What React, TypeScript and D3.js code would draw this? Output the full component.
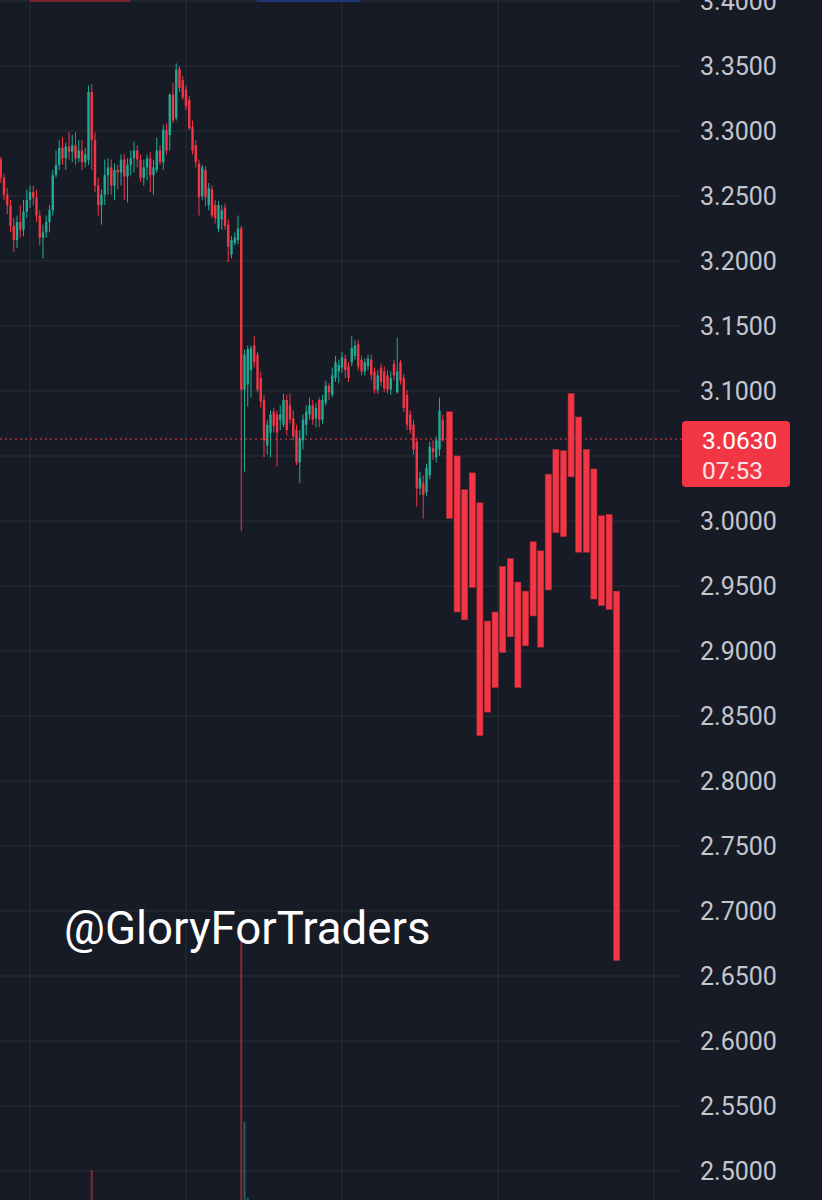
import * as d3 from "d3";
import { useEffect, useRef } from "react";

const W = 822;
const H = 1200;

// 5m candles, [open, high, low, close]
const candles: [number, number, number, number][] = [
  [3.278, 3.280, 3.260, 3.264], [3.264, 3.267, 3.247, 3.251], [3.251, 3.256, 3.236, 3.243],
  [3.243, 3.247, 3.222, 3.227], [3.227, 3.233, 3.207, 3.216], [3.216, 3.235, 3.210, 3.230],
  [3.230, 3.243, 3.218, 3.224], [3.224, 3.247, 3.219, 3.238], [3.238, 3.255, 3.233, 3.247],
  [3.247, 3.258, 3.241, 3.253], [3.253, 3.258, 3.243, 3.249], [3.249, 3.255, 3.230, 3.235],
  [3.235, 3.239, 3.212, 3.218], [3.218, 3.228, 3.202, 3.222], [3.222, 3.235, 3.218, 3.230],
  [3.230, 3.243, 3.222, 3.239], [3.239, 3.270, 3.235, 3.266], [3.266, 3.285, 3.264, 3.274],
  [3.274, 3.293, 3.270, 3.287], [3.287, 3.295, 3.274, 3.279], [3.279, 3.291, 3.270, 3.288],
  [3.288, 3.299, 3.278, 3.284], [3.284, 3.297, 3.276, 3.289], [3.289, 3.299, 3.274, 3.279],
  [3.279, 3.293, 3.276, 3.285], [3.285, 3.293, 3.270, 3.276], [3.276, 3.287, 3.272, 3.282],
  [3.278, 3.335, 3.274, 3.330], [3.330, 3.336, 3.270, 3.293], [3.293, 3.299, 3.253, 3.258],
  [3.258, 3.264, 3.235, 3.243], [3.243, 3.255, 3.228, 3.251], [3.251, 3.278, 3.243, 3.266],
  [3.266, 3.279, 3.251, 3.272], [3.272, 3.278, 3.251, 3.258], [3.258, 3.275, 3.247, 3.270],
  [3.270, 3.274, 3.255, 3.268], [3.268, 3.282, 3.258, 3.278], [3.278, 3.282, 3.247, 3.265],
  [3.265, 3.279, 3.245, 3.274], [3.274, 3.285, 3.266, 3.279], [3.279, 3.292, 3.268, 3.285],
  [3.285, 3.289, 3.272, 3.278], [3.278, 3.282, 3.261, 3.264], [3.264, 3.278, 3.258, 3.272],
  [3.272, 3.282, 3.262, 3.279], [3.279, 3.284, 3.253, 3.266], [3.266, 3.278, 3.251, 3.272],
  [3.270, 3.295, 3.268, 3.285], [3.285, 3.289, 3.274, 3.276], [3.276, 3.305, 3.270, 3.301],
  [3.301, 3.306, 3.282, 3.285], [3.297, 3.329, 3.285, 3.328], [3.328, 3.337, 3.306, 3.308],
  [3.310, 3.352, 3.308, 3.347], [3.348, 3.350, 3.330, 3.333], [3.339, 3.342, 3.324, 3.326],
  [3.332, 3.335, 3.316, 3.319], [3.324, 3.327, 3.301, 3.302], [3.303, 3.308, 3.282, 3.285],
  [3.289, 3.293, 3.272, 3.276], [3.275, 3.278, 3.235, 3.249], [3.250, 3.274, 3.247, 3.272],
  [3.270, 3.273, 3.242, 3.249], [3.243, 3.260, 3.239, 3.256], [3.255, 3.258, 3.233, 3.235],
  [3.243, 3.247, 3.229, 3.233], [3.225, 3.246, 3.222, 3.243], [3.232, 3.243, 3.224, 3.239],
  [3.241, 3.244, 3.224, 3.227], [3.228, 3.232, 3.199, 3.211], [3.205, 3.219, 3.202, 3.216],
  [3.214, 3.222, 3.212, 3.218], [3.216, 3.235, 3.213, 3.225], [3.225, 3.227, 2.992, 3.101],
  [3.101, 3.132, 3.038, 3.128], [3.105, 3.135, 3.088, 3.132], [3.116, 3.135, 3.095, 3.133],
  [3.135, 3.142, 3.118, 3.122], [3.128, 3.130, 3.099, 3.101], [3.110, 3.115, 3.087, 3.092],
  [3.093, 3.097, 3.049, 3.062], [3.058, 3.078, 3.051, 3.074], [3.068, 3.085, 3.049, 3.082],
  [3.084, 3.087, 3.068, 3.073], [3.082, 3.085, 3.042, 3.068], [3.078, 3.089, 3.070, 3.082],
  [3.074, 3.098, 3.072, 3.093], [3.093, 3.097, 3.066, 3.070], [3.089, 3.098, 3.075, 3.078],
  [3.079, 3.085, 3.062, 3.065], [3.070, 3.074, 3.043, 3.045], [3.045, 3.070, 3.029, 3.064],
  [3.062, 3.082, 3.055, 3.078], [3.074, 3.089, 3.066, 3.084], [3.082, 3.095, 3.078, 3.089],
  [3.089, 3.093, 3.074, 3.078], [3.079, 3.091, 3.072, 3.087], [3.093, 3.095, 3.072, 3.078],
  [3.078, 3.097, 3.075, 3.093], [3.091, 3.108, 3.089, 3.104], [3.104, 3.106, 3.093, 3.099],
  [3.097, 3.118, 3.095, 3.112], [3.110, 3.127, 3.107, 3.122], [3.115, 3.124, 3.106, 3.120],
  [3.118, 3.130, 3.114, 3.126], [3.125, 3.128, 3.110, 3.116], [3.119, 3.122, 3.107, 3.110],
  [3.122, 3.142, 3.119, 3.133], [3.127, 3.139, 3.124, 3.135], [3.136, 3.139, 3.116, 3.119],
  [3.124, 3.127, 3.112, 3.115], [3.115, 3.125, 3.112, 3.122], [3.119, 3.128, 3.116, 3.125],
  [3.124, 3.128, 3.108, 3.112], [3.115, 3.118, 3.098, 3.101], [3.101, 3.116, 3.098, 3.112],
  [3.118, 3.121, 3.104, 3.107], [3.115, 3.119, 3.099, 3.102], [3.112, 3.116, 3.098, 3.101],
  [3.101, 3.115, 3.097, 3.110], [3.121, 3.124, 3.108, 3.112], [3.099, 3.141, 3.098, 3.115],
  [3.122, 3.124, 3.105, 3.108], [3.110, 3.113, 3.084, 3.087], [3.097, 3.101, 3.070, 3.074],
  [3.082, 3.085, 3.067, 3.070], [3.074, 3.078, 3.051, 3.055], [3.061, 3.064, 3.011, 3.025],
  [3.025, 3.038, 3.020, 3.033], [3.029, 3.035, 3.002, 3.020], [3.022, 3.044, 3.019, 3.041],
  [3.035, 3.061, 3.032, 3.057], [3.056, 3.062, 3.047, 3.053], [3.049, 3.065, 3.045, 3.062],
  [3.055, 3.095, 3.050, 3.085], [3.078, 3.082, 3.061, 3.062],
];

// the wide red block on the right, top and bottom price of each bar
const wideTop = [
  3.084, 3.050, 3.024, 3.037, 3.014, 2.923, 2.930, 2.965, 2.971, 2.953, 2.946, 2.984,
  2.977, 3.036, 3.055, 3.054, 3.098, 3.080, 3.055, 3.040, 3.004, 3.005, 2.946,
];
const wideBottom = [
  3.002, 2.930, 2.924, 2.949, 2.835, 2.853, 2.872, 2.899, 2.911, 2.872, 2.904, 2.927,
  2.903, 2.947, 2.991, 2.988, 3.034, 2.976, 2.976, 2.940, 2.935, 2.932, 2.662,
];

const priceTicks = [
  3.4, 3.35, 3.3, 3.25, 3.2, 3.15, 3.1, 3.05, 3.0, 2.95, 2.9, 2.85, 2.8, 2.75, 2.7,
  2.65, 2.6, 2.55, 2.5,
];
const timeGrid = [9, 57, 105, 153, 201];

// volume overlay, only the bars tall enough to show
const volIdx = [28, 74, 75, 76];
const volValues = [14.5, 100, 32, 4.5];

const lastPrice = 3.063;
const countdown = "07:53";
const watermark = "@GloryForTraders";

const UP = "#22ab94";
const DOWN = "#f23645";
const BG = "#171b26";
const GRID = "#2a2e39";

export default function App() {
  const ref = useRef<SVGSVGElement>(null);

  useEffect(() => {
    if (!ref.current) return;
    const svg = d3.select(ref.current);
    svg.selectAll("*").remove();

    const plotRight = 680;

    const x = d3.scaleLinear().domain([0, 201]).range([0.75, 654]);
    const y = d3.scaleLinear().domain([2.5, 3.4]).range([1171, 1]);
    const xw = d3
      .scaleBand<number>()
      .domain(d3.range(wideTop.length))
      .range([445.7, 620.5])
      .paddingInner(0.2)
      .paddingOuter(0.1);
    const yv = d3.scaleLinear().domain([0, 100]).range([1210, 935]);

    svg.append("rect").attr("width", W).attr("height", H).attr("fill", BG);

    // grid
    svg
      .append("g")
      .selectAll("line")
      .data(timeGrid)
      .join("line")
      .attr("x1", (d) => x(d))
      .attr("x2", (d) => x(d))
      .attr("y1", 0)
      .attr("y2", H)
      .attr("stroke", GRID)
      .attr("stroke-width", 1);

    svg
      .append("g")
      .selectAll("line")
      .data(priceTicks)
      .join("line")
      .attr("x1", 0)
      .attr("x2", plotRight)
      .attr("y1", (d) => y(d))
      .attr("y2", (d) => y(d))
      .attr("stroke", GRID)
      .attr("stroke-width", 1);

    // bits of toolbar cut off at the top edge
    svg.append("rect").attr("x", 30).attr("y", 0).attr("width", 100).attr("height", 2).attr("fill", "#7c2530");
    svg.append("rect").attr("x", 257).attr("y", 0).attr("width", 103).attr("height", 2).attr("fill", "#1f3578");

    // volume
    svg
      .append("g")
      .selectAll("rect")
      .data(volIdx)
      .join("rect")
      .attr("x", (d) => x(d) - 1)
      .attr("width", 2)
      .attr("y", (d, i) => yv(volValues[i]))
      .attr("height", (d, i) => yv(0) - yv(volValues[i]))
      .attr("fill", (d) => (candles[d][3] >= candles[d][0] ? UP : DOWN))
      .attr("opacity", 0.5);

    // candles
    const cg = svg.append("g");
    candles.forEach(([o, h, l, c], i) => {
      const col = c >= o ? UP : DOWN;
      cg.append("line")
        .attr("x1", x(i))
        .attr("x2", x(i))
        .attr("y1", y(h))
        .attr("y2", y(l))
        .attr("stroke", col)
        .attr("stroke-width", 1);
      const top = y(Math.max(o, c));
      cg.append("rect")
        .attr("x", x(i) - 1.2)
        .attr("width", 2.4)
        .attr("y", top)
        .attr("height", Math.max(1, y(Math.min(o, c)) - top))
        .attr("fill", col);
    });

    // wide bars
    svg
      .append("g")
      .selectAll("rect")
      .data(wideTop)
      .join("rect")
      .attr("x", (d, i) => xw(i)!)
      .attr("width", xw.bandwidth())
      .attr("y", (d) => y(d))
      .attr("height", (d, i) => y(wideBottom[i]) - y(d))
      .attr("fill", DOWN)
      .attr("stroke", "#b92a38")
      .attr("stroke-width", 0.6);

    // last price line
    svg
      .append("line")
      .attr("x1", 0)
      .attr("x2", 682)
      .attr("y1", y(lastPrice))
      .attr("y2", y(lastPrice))
      .attr("stroke", DOWN)
      .attr("stroke-width", 1)
      .attr("stroke-dasharray", "2,3");

    // axis labels
    svg
      .append("g")
      .selectAll("text")
      .data(priceTicks)
      .join("text")
      .attr("x", 700)
      .attr("y", (d) => y(d))
      .attr("dy", "0.36em")
      .attr("font-family", "Roboto, sans-serif")
      .attr("font-size", 25)
      .attr("fill", "#c3c6ce")
      .text((d) => d3.format(".4f")(d));

    // price tag
    const py = y(lastPrice);
    svg
      .append("rect")
      .attr("x", 682)
      .attr("y", py - 18)
      .attr("width", 108)
      .attr("height", 66)
      .attr("rx", 4)
      .attr("fill", DOWN);
    svg
      .append("text")
      .attr("x", 702)
      .attr("y", py + 1)
      .attr("dy", "0.36em")
      .attr("font-family", "Roboto, sans-serif")
      .attr("font-size", 24.5)
      .attr("fill", "#ffffff")
      .text(d3.format(".4f")(lastPrice));
    svg
      .append("text")
      .attr("x", 702)
      .attr("y", py + 31)
      .attr("dy", "0.36em")
      .attr("font-family", "Roboto, sans-serif")
      .attr("font-size", 24.5)
      .attr("fill", "#fbe3e5")
      .text(countdown);

    // watermark
    svg
      .append("text")
      .attr("x", 64)
      .attr("y", 944)
      .attr("font-family", "Roboto, sans-serif")
      .attr("font-size", 45.6)
      .attr("fill", "#ffffff")
      .text(watermark);
  }, []);

  return (
    <svg
      ref={ref}
      width={W}
      height={H}
      style={{ position: "absolute", left: 0, top: 0, display: "block" }}
    />
  );
}
